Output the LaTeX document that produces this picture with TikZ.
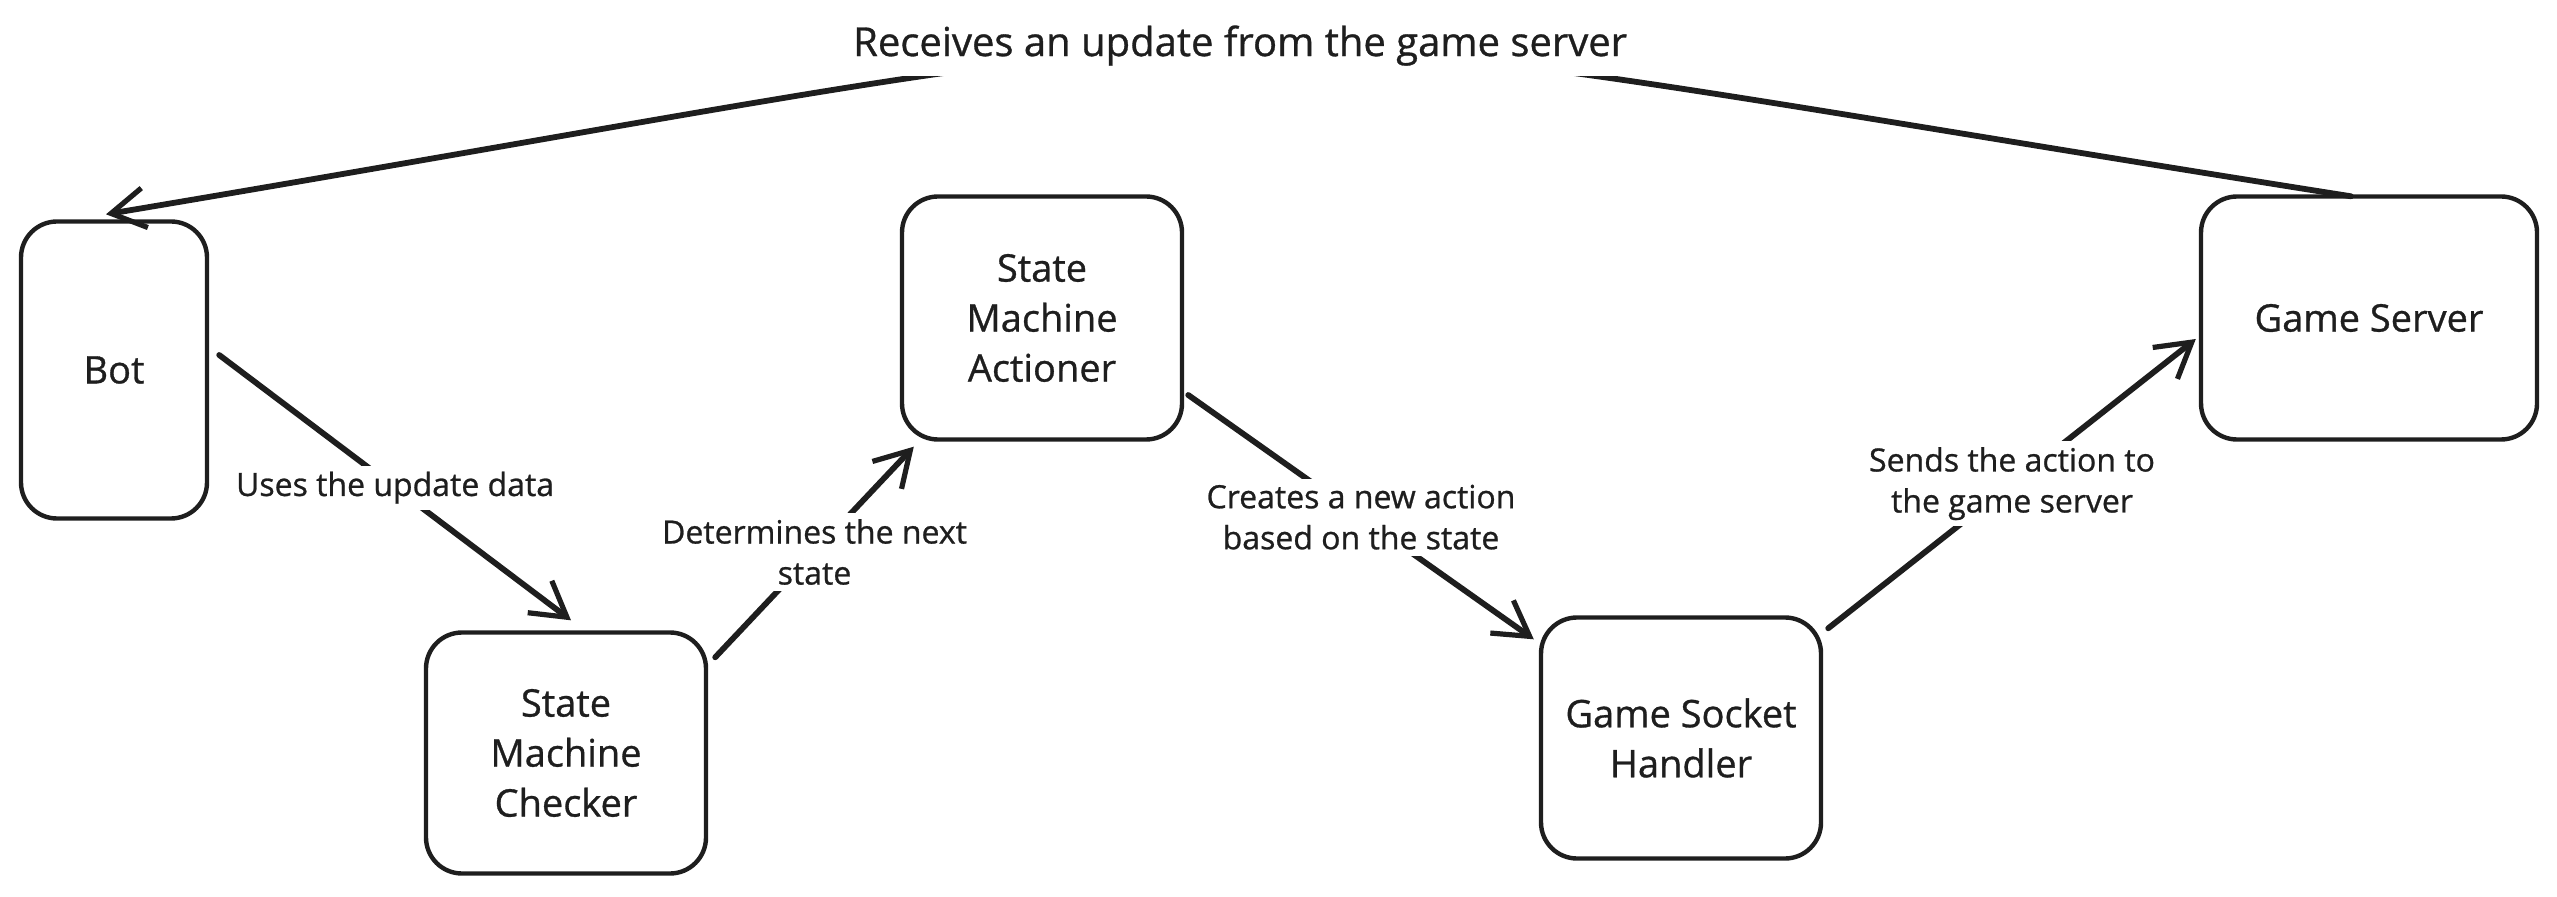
\documentclass[tikz,border=0pt]{standalone}
\usepackage{fontspec}
\setmainfont{Open Sans}[UprightFeatures={FakeBold=0.8}]
\usetikzlibrary{arrows.meta}
\definecolor{ink}{HTML}{1E1E1E}
\begin{document}
\begin{tikzpicture}[x=0.5pt,y=-0.5pt,
  box/.style={draw=ink, line width=2.2pt, rounded corners=18pt, align=center,
    font=\fontsize{19}{25}\selectfont, text=ink, inner sep=0pt},
  conn/.style={draw=ink, line width=2.9pt, line cap=round,
    -{Straight Barb[length=17pt,width=20pt,line width=2.6pt]}},
  elabel/.style={fill=white, text=ink, align=center,
    font=\fontsize{16}{20.5}\selectfont, inner sep=3pt},
  tlabel/.style={fill=white, text=ink, align=center,
    font=\fontsize{20}{24}\selectfont, inner xsep=2pt, inner ysep=5pt},
]
\useasboundingbox (0,0) rectangle (2557,897);

\node[box, minimum width=93pt, minimum height=148.5pt] (bot) at (114,370) {Bot};
\node[box, minimum width=140pt, minimum height=120.5pt] (smc) at (566,753) {State\\Machine\\Checker};
\node[box, minimum width=140pt, minimum height=121.5pt] (sma) at (1042,318) {State\\Machine\\Actioner};
\node[box, minimum width=140pt, minimum height=120.5pt] (gsh) at (1681,738) {Game Socket\\Handler};
\node[box, minimum width=168pt, minimum height=121.5pt] (gs) at (2369,318) {Game Server};

\draw[conn] ([shift={(10,-15)}]bot.east) -- ([shift={(5,-10)}]smc.north)
  node[elabel, midway] {Uses the update data};
\draw[conn] ([shift={(7,27)}]smc.north east) -- ([shift={(14,5)}]sma.south west)
  node[elabel, midway] {Determines the next\\state};
\draw[conn] ([shift={(4,77)}]sma.east) -- ([shift={(-5,24)}]gsh.north west)
  node[elabel, midway] {Creates a new action\\based on the state};
\draw[conn] ([shift={(5,13)}]gsh.north east) -- ([shift={(-3,21)}]gs.west)
  node[elabel, midway] {Sends the action to\\the game server};
\draw[conn] ([shift={(-18,2)}]gs.north) .. controls (1076,-5) and (1412,-5) .. ([shift={(-8,-5)}]bot.north)
  node[tlabel, pos=0.5, yshift=1pt] {Receives an update from the game server};
\end{tikzpicture}
\end{document}
